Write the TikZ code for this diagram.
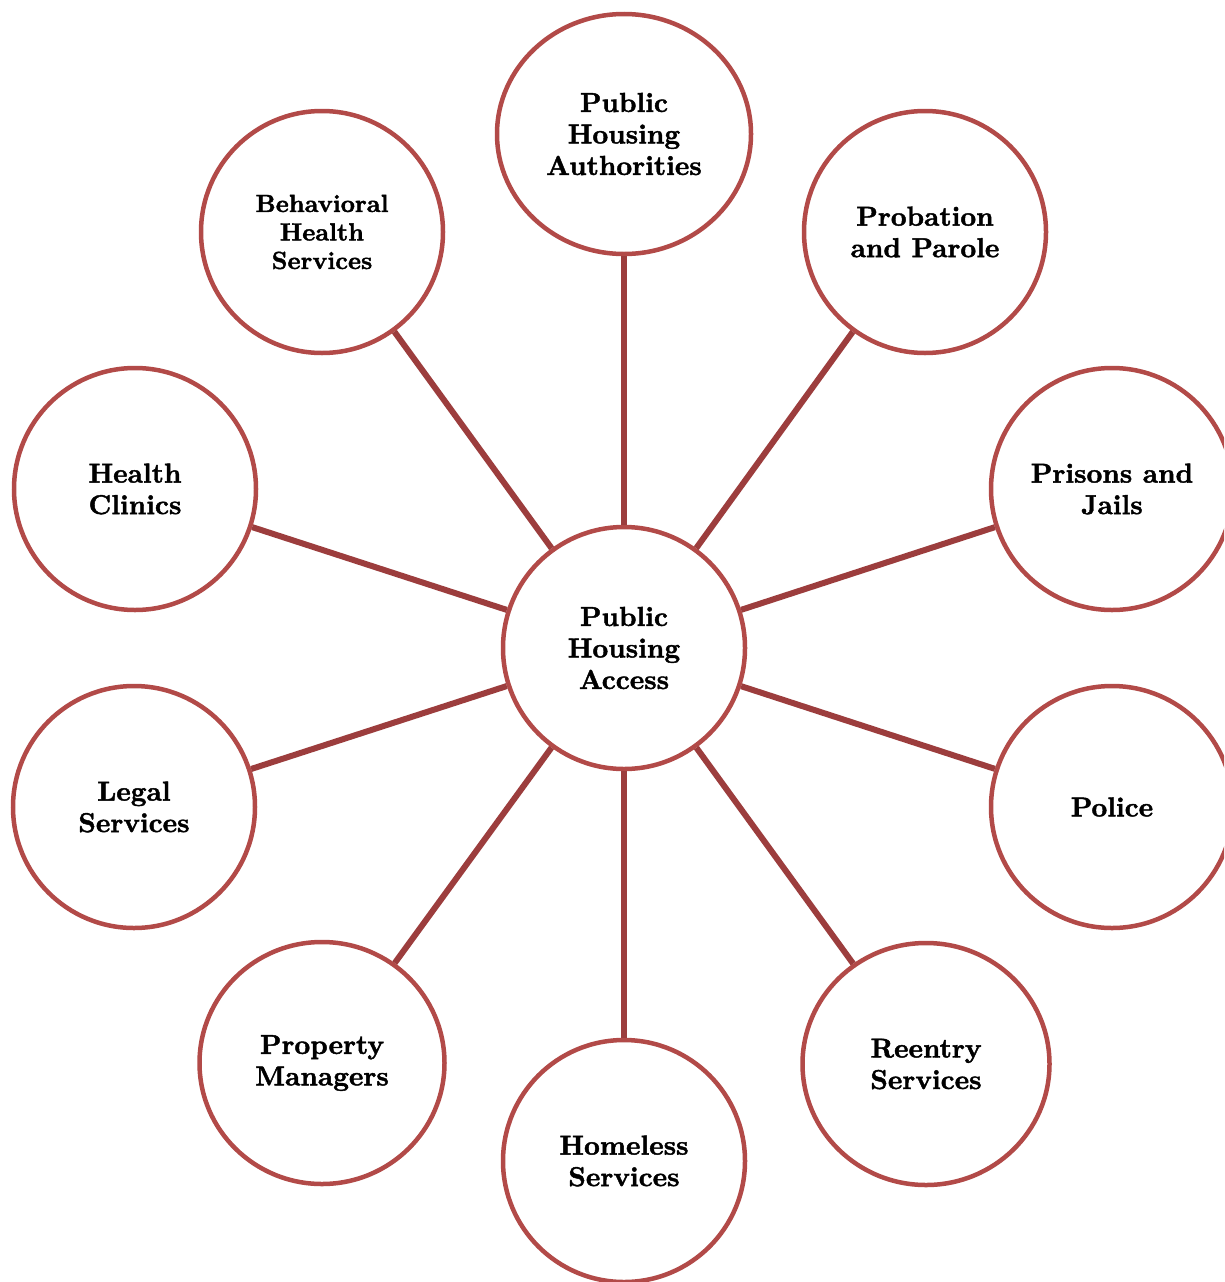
\documentclass[tikz,border=0pt]{standalone}
\usepackage{fontspec}
\setmainfont{lmroman10-regular.otf}[BoldFont=lmroman10-bold.otf, BoldFeatures={FakeBold=1.6}]
\usetikzlibrary{shapes.geometric}
\definecolor{ringred}{HTML}{B24A48}
\definecolor{linkred}{HTML}{9C3D3D}
\tikzset{
  sat/.style={ellipse, draw=ringred, line width=4.5pt, fill=white, inner sep=0pt,
    minimum width=242pt, minimum height=242pt, align=center, text=black,
    font=\bfseries\fontsize{27.4}{31.5}\selectfont},
  link/.style={draw=linkred, line width=6pt}
}
\begin{document}
\begin{tikzpicture}[x=1pt,y=-1pt]
\clip (0,0) rectangle (1224,1282);
\fill[white] (0,0) rectangle (1224,1282);
\node[sat] (c) at (624,648) {Public\\Housing\\Access};
\node[sat, minimum width=254pt, minimum height=240pt] (pha) at (624,134) {Public\\Housing\\Authorities};
\node[sat] (pp) at (925,232) {Probation\\and Parole};
\node[sat] (pj) at (1112,489) {Prisons and\\Jails};
\node[sat] (pol) at (1112,807) {Police};
\node[sat, minimum width=247pt] (re) at (926,1064) {Reentry\\Services};
\node[sat] (hs) at (624,1161) {Homeless\\Services};
\node[sat, minimum width=245pt] (pm) at (322,1063) {Property\\Managers};
\node[sat] (ls) at (134,807) {Legal\\Services};
\node[sat] (hc) at (135,489) {Health\\Clinics};
\node[sat, font=\bfseries\fontsize{24.8}{28.5}\selectfont] (bh) at (322,232) {Behavioral\\Health\\Services};
\foreach \t in {pha,pp,pj,pol,re,hs,pm,ls,hc,bh}
  \draw[link] (c) -- (\t);
\end{tikzpicture}
\end{document}
